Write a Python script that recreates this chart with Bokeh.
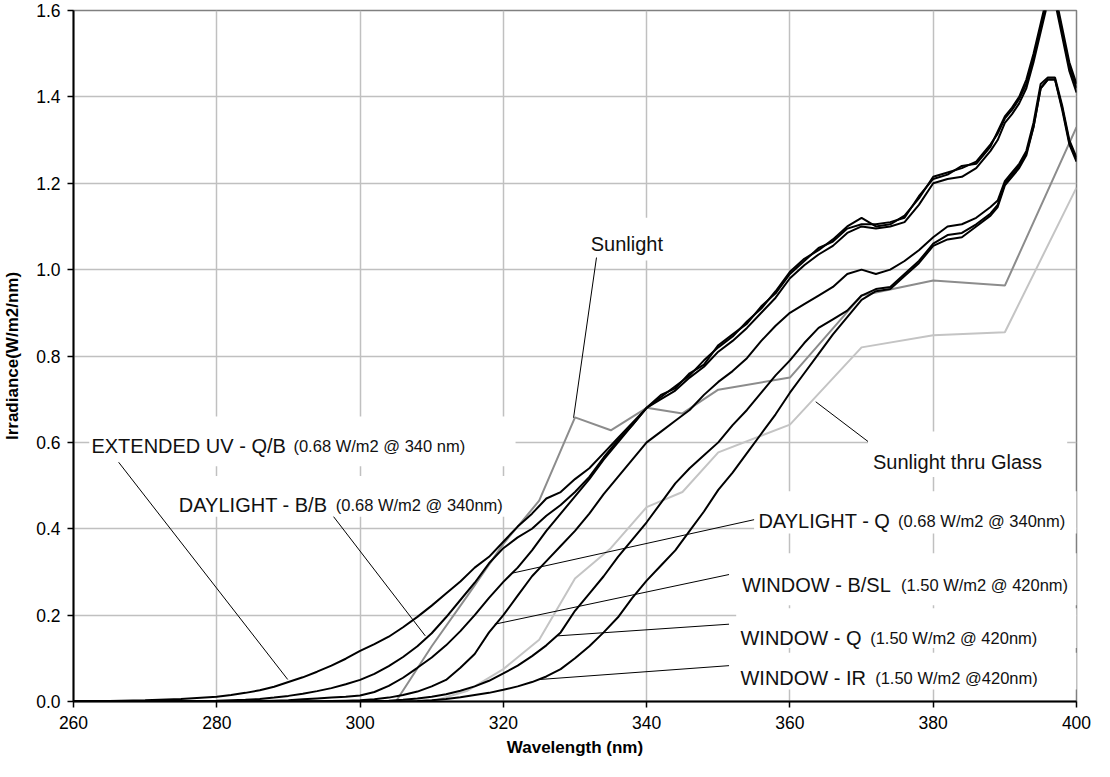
from bokeh.plotting import figure
from bokeh.models import Range1d, FixedTicker, Label, PrintfTickFormatter
from bokeh.embed import file_html
from bokeh.resources import INLINE

# ---------------- data ----------------
wavelength = [260, 265, 270, 275, 280,
              282, 284, 286, 288, 290, 292, 294, 296, 298, 300,
              302, 304, 306, 308, 310, 312, 314, 316, 318, 320,
              322, 324, 326, 328, 330, 332, 334, 336, 338, 340,
              342, 344, 346, 348, 350, 352, 354, 356, 358, 360,
              362, 364, 366, 368, 370, 372, 374, 376, 378, 380,
              382, 384, 386, 388,
              389, 390, 391, 392, 393, 394, 395, 396, 397, 398, 399, 400]

extended_uv_qb = [0.0, 0.001, 0.003, 0.006, 0.011,
                  0.015, 0.020, 0.026, 0.034, 0.045, 0.056, 0.069, 0.083, 0.099, 0.117,
                  0.133, 0.150, 0.172, 0.196, 0.222, 0.250, 0.278, 0.310, 0.335, 0.370,
                  0.405, 0.435, 0.470, 0.485, 0.515, 0.540, 0.575, 0.610, 0.645, 0.680,
                  0.705, 0.730, 0.755, 0.790, 0.820, 0.845, 0.880, 0.910, 0.950, 0.995,
                  1.025, 1.045, 1.070, 1.100, 1.120, 1.100, 1.105, 1.125, 1.165, 1.215,
                  1.225, 1.235, 1.250, 1.290,
                  1.315, 1.350, 1.370, 1.395, 1.430, 1.490, 1.560, 1.630, 1.630, 1.550, 1.470, 1.420]

daylight_bb = [0.0, 0.0, 0.0, 0.001, 0.002,
               0.003, 0.004, 0.006, 0.009, 0.013, 0.018, 0.024, 0.031, 0.040, 0.050,
               0.064, 0.082, 0.103, 0.128, 0.158, 0.195, 0.235, 0.275, 0.320, 0.355,
               0.380, 0.400, 0.430, 0.455, 0.485, 0.520, 0.565, 0.605, 0.640, 0.680,
               0.710, 0.725, 0.760, 0.780, 0.825, 0.850, 0.875, 0.915, 0.945, 0.990,
               1.020, 1.050, 1.065, 1.095, 1.105, 1.105, 1.110, 1.120, 1.170, 1.210,
               1.220, 1.240, 1.245, 1.285,
               1.320, 1.355, 1.375, 1.400, 1.440, 1.500, 1.570, 1.640, 1.640, 1.560, 1.480, 1.430]

daylight_q = [0.0, 0.0, 0.0, 0.0, 0.0,
              0.0, 0.0, 0.001, 0.002, 0.003, 0.005, 0.007, 0.009, 0.011, 0.014,
              0.022, 0.036, 0.055, 0.078, 0.102, 0.130, 0.163, 0.200, 0.240, 0.277,
              0.310, 0.350, 0.395, 0.435, 0.475, 0.515, 0.560, 0.600, 0.640, 0.680,
              0.700, 0.720, 0.750, 0.775, 0.810, 0.835, 0.865, 0.900, 0.935, 0.980,
              1.010, 1.035, 1.055, 1.085, 1.100, 1.095, 1.100, 1.110, 1.150, 1.200,
              1.210, 1.215, 1.235, 1.275,
              1.300, 1.340, 1.360, 1.385, 1.420, 1.480, 1.550, 1.620, 1.620, 1.540, 1.460, 1.410]

window_bsl = [0.0, 0.0, 0.0, 0.0, 0.0,
              0.0, 0.0, 0.0, 0.0, 0.0, 0.0, 0.0, 0.001, 0.002, 0.003,
              0.005, 0.009, 0.015, 0.023, 0.035, 0.050, 0.078, 0.110, 0.160, 0.200,
              0.245, 0.290, 0.325, 0.360, 0.395, 0.435, 0.480, 0.520, 0.560, 0.600,
              0.625, 0.650, 0.675, 0.710, 0.740, 0.765, 0.795, 0.835, 0.870, 0.900,
              0.920, 0.940, 0.960, 0.990, 1.000, 0.990, 1.000, 1.020, 1.045, 1.075,
              1.100, 1.105, 1.120, 1.145,
              1.160, 1.205, 1.225, 1.245, 1.275, 1.340, 1.430, 1.445, 1.445, 1.380, 1.300, 1.260]

window_q = [0.0, 0.0, 0.0, 0.0, 0.0,
            0.0, 0.0, 0.0, 0.0, 0.0, 0.0, 0.0, 0.0, 0.0, 0.0,
            0.001, 0.002, 0.004, 0.007, 0.011, 0.017, 0.025, 0.035, 0.048, 0.065,
            0.083, 0.105, 0.130, 0.160, 0.210, 0.250, 0.290, 0.335, 0.375, 0.415,
            0.460, 0.505, 0.540, 0.570, 0.600, 0.640, 0.675, 0.715, 0.755, 0.790,
            0.830, 0.865, 0.885, 0.905, 0.940, 0.955, 0.960, 0.990, 1.020, 1.060,
            1.080, 1.085, 1.105, 1.130,
            1.150, 1.200, 1.220, 1.240, 1.270, 1.330, 1.420, 1.440, 1.440, 1.375, 1.295, 1.255]

window_ir = [0.0, 0.0, 0.0, 0.0, 0.0,
             0.0, 0.0, 0.0, 0.0, 0.0, 0.0, 0.0, 0.0, 0.0, 0.0,
             0.0, 0.0, 0.0, 0.001, 0.003, 0.006, 0.010, 0.015, 0.020, 0.027,
             0.035, 0.045, 0.058, 0.075, 0.100, 0.128, 0.160, 0.195, 0.240, 0.280,
             0.315, 0.350, 0.395, 0.440, 0.490, 0.530, 0.575, 0.620, 0.665, 0.715,
             0.760, 0.805, 0.850, 0.890, 0.930, 0.950, 0.955, 0.985, 1.015, 1.055,
             1.070, 1.075, 1.100, 1.125,
             1.145, 1.195, 1.215, 1.235, 1.265, 1.330, 1.420, 1.440, 1.440, 1.370, 1.290, 1.250]

sun_wavelength = [300, 305, 310, 315, 320, 325, 330, 335, 340, 345, 350, 360, 370, 380, 390, 400]
sunlight = [0.0, 0.0, 0.128, 0.245, 0.365, 0.465, 0.658, 0.628, 0.680, 0.667, 0.722, 0.750, 0.940, 0.975, 0.963, 1.330]
sunlight_glass = [0.0, 0.0, 0.0, 0.025, 0.075, 0.143, 0.285, 0.355, 0.450, 0.485, 0.577, 0.641, 0.820, 0.848, 0.855, 1.190]

x_ticks = [260, 280, 300, 320, 340, 360, 380, 400]
y_ticks = [0.0, 0.2, 0.4, 0.6, 0.8, 1.0, 1.2, 1.4, 1.6]

# ---------------- figure ----------------
FONT = "Liberation Sans"

p = figure(width=1100, height=765,
           x_range=Range1d(260, 400), y_range=Range1d(0, 1.6),
           output_backend="svg", toolbar_location=None,
           min_border_left=69, min_border_right=24,
           min_border_top=10, min_border_bottom=64)

p.background_fill_color = "white"
p.border_fill_color = "white"
p.outline_line_color = "#808080"
p.outline_line_width = 1.5

p.xaxis.ticker = FixedTicker(ticks=x_ticks)
p.yaxis.ticker = FixedTicker(ticks=y_ticks)
p.yaxis.formatter = PrintfTickFormatter(format="%.1f")

for ax in (p.xaxis[0], p.yaxis[0]):
    ax.axis_line_color = "black"
    ax.axis_line_width = 2
    ax.major_tick_line_color = "black"
    ax.major_tick_line_width = 1.5
    ax.major_tick_out = 6
    ax.major_tick_in = 0
    ax.minor_tick_line_color = None
    ax.major_label_text_font = FONT
    ax.major_label_text_font_size = "17.5px"
    ax.major_label_text_color = "black"
    ax.axis_label_text_font = FONT
    ax.axis_label_text_font_size = "17px"
    ax.axis_label_text_font_style = "bold"
    ax.axis_label_text_color = "black"

p.xaxis.axis_label = "Wavelength (nm)"
p.yaxis.axis_label = "Irradiance(W/m2/nm)"
p.xaxis.major_label_standoff = 8
p.yaxis.major_label_standoff = 7
p.xaxis.axis_label_standoff = 6
p.yaxis.axis_label_standoff = 11

p.grid.grid_line_color = "#c0c0c0"
p.grid.grid_line_width = 1.5

# white label boxes (hide grid lines behind labels)
box_left = [262.2, 274.3, 331.3, 370.9, 355.0, 352.2, 352.5, 352.5]
box_right = [321.7, 320.9, 346.6, 398.7, 401.0, 401.0, 401.0, 401.0]
box_bottom = [0.545, 0.428, 1.021, 0.520, 0.389, 0.223, 0.124, 0.028]
box_top = [0.660, 0.522, 1.120, 0.625, 0.487, 0.343, 0.216, 0.113]
p.quad(left=box_left, right=box_right, bottom=box_bottom, top=box_top,
       fill_color="white", line_color=None)

# series
p.line(sun_wavelength, sunlight, color="#8c8c8c", line_width=2)
p.line(sun_wavelength, sunlight_glass, color="#c4c4c4", line_width=2)
for series in (extended_uv_qb, daylight_bb, daylight_q, window_bsl, window_q, window_ir):
    p.line(wavelength, series, color="black", line_width=2)

# leader lines
lead_x0 = [266.3, 296.3, 333.0, 370.9, 355.0, 351.5, 351.5, 351.5]
lead_y0 = [0.554, 0.428, 1.028, 0.602, 0.421, 0.294, 0.179, 0.083]
lead_x1 = [289.9, 309.1, 329.8, 363.6, 321.2, 318.8, 327.6, 325.1]
lead_y1 = [0.051, 0.152, 0.657, 0.694, 0.297, 0.179, 0.152, 0.051]
p.segment(x0=lead_x0, y0=lead_y0, x1=lead_x1, y1=lead_y1, color="black", line_width=1)

# labels: (main text, x, small text, x_small, baseline y)
labels = [
    ("EXTENDED UV - Q/B", 262.5, "(0.68 W/m2 @ 340 nm)", 290.7, 0.591),
    ("DAYLIGHT - B/B", 274.7, "(0.68 W/m2 @ 340nm)", 296.6, 0.455),
    ("Sunlight", 332.2, "", 0, 1.060),
    ("Sunlight thru Glass", 371.6, "", 0, 0.554),
    ("DAYLIGHT - Q", 355.6, "(0.68 W/m2 @ 340nm)", 375.1, 0.418),
    ("WINDOW - B/SL", 353.3, "(1.50 W/m2 @ 420nm)", 375.5, 0.269),
    ("WINDOW - Q", 353.1, "(1.50 W/m2 @ 420nm)", 371.2, 0.147),
    ("WINDOW - IR", 353.1, "(1.50 W/m2 @420nm)", 371.9, 0.055),
]
for big, xb, small, xs, yb in labels:
    p.add_layout(Label(x=xb, y=yb, text=big, text_font=FONT, text_font_size="20px",
                       text_color="#111111", text_baseline="alphabetic", text_align="left"))
    if small:
        p.add_layout(Label(x=xs, y=yb, text=small, text_font=FONT, text_font_size="16.5px",
                           text_color="#111111", text_baseline="alphabetic", text_align="left"))

open("out.html", "w").write(file_html(p, INLINE))
